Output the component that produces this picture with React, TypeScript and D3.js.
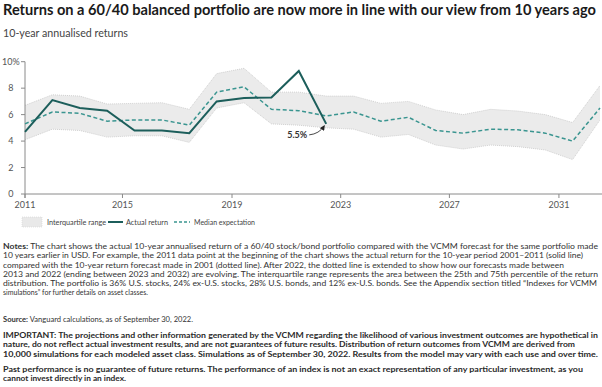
import React from "react";
import * as d3 from "d3";

const W = 602;
const H = 387;

const actualYears = [2011, 2012, 2013, 2014, 2015, 2016, 2017, 2018, 2019, 2020, 2021, 2022];
const actualValues = [4.7, 7.1, 6.5, 6.3, 4.8, 4.8, 4.6, 7.0, 7.25, 7.3, 9.3, 5.3];

const forecastYears = [2011, 2012, 2013, 2014, 2015, 2016, 2017, 2018, 2019, 2020, 2021, 2022, 2023, 2024, 2025, 2026, 2027, 2028, 2029, 2030, 2031, 2032];
const medianValues = [5.3, 6.2, 6.1, 5.5, 5.6, 5.6, 5.2, 7.7, 8.1, 6.4, 6.3, 5.9, 6.2, 5.5, 5.8, 4.8, 4.6, 4.9, 4.85, 4.6, 4.0, 6.5];
const upperValues = [6.7, 7.5, 7.4, 6.8, 6.85, 6.9, 6.4, 9.1, 9.5, 7.7, 7.7, 7.4, 7.4, 6.85, 7.0, 6.35, 6.0, 6.4, 6.27, 6.0, 5.4, 8.2];
const lowerValues = [4.1, 4.9, 4.8, 4.3, 4.4, 4.4, 3.9, 6.5, 6.9, 5.3, 5.2, 5.0, 4.9, 4.3, 4.5, 3.7, 3.4, 3.7, 3.58, 3.33, 2.6, 5.6];

const yTicks = [0, 2, 4, 6, 8, 10];
const xTickValues = [2011, 2014.56, 2018.56, 2022.53, 2026.5, 2030.5];
const xTickLabels = ["2011", "2015", "2019", "2023", "2027", "2031"];

const title = "Returns on a 60/40 balanced portfolio are now more in line with our view from 10 years ago";
const subtitle = "10-year annualised returns";
const annotation = "5.5%";
const legendLabels = ["Interquartile range", "Actual return", "Median expectation"];

const notesLines: [string, string, number][] = [
  ["Notes:", " The chart shows the actual 10-year annualised return of a 60/40 stock/bond portfolio compared with the VCMM forecast for the same portfolio made", 595],
  ["", "10 years earlier in USD. For example, the 2011 data point at the beginning of the chart shows the actual return for the 10-year period 2001–2011 (solid line)", 580],
  ["", "compared with the 10-year return forecast made in 2001 (dotted line). After 2022, the dotted line is extended to show how our forecasts made between", 561],
  ["", "2013 and 2022 (ending between 2023 and 2032) are evolving. The interquartile range represents the area between the 25th and 75th percentile of the return", 595],
  ["", "distribution. The portfolio is 36% U.S. stocks, 24% ex-U.S. stocks, 28% U.S. bonds, and 12% ex-U.S. bonds. See the Appendix section titled \u201cIndexes for VCMM", 594],
  ["", "simulations\u201d for further details on asset classes.", 145],
];
const sourceLine: [string, string, number] = ["Source:", " Vanguard calculations, as of September 30, 2022.", 190];
const importantLines: [string, number][] = [
  ["IMPORTANT: The projections and other information generated by the VCMM regarding the likelihood of various investment outcomes are hypothetical in", 595],
  ["nature, do not reflect actual investment results, and are not guarantees of future results. Distribution of return outcomes from VCMM are derived from", 572],
  ["10,000 simulations for each modeled asset class. Simulations as of September 30, 2022. Results from the model may vary with each use and over time.", 595],
];
const pastLines: [string, number][] = [
  ["Past performance is no guarantee of future returns. The performance of an index is not an exact representation of any particular investment, as you", 580],
  ["cannot invest directly in an index.", 123],
];

const FONT = "Lato, 'Open Sans', sans-serif";
const SOLID = "#1c5e5b";
const DASH = "#3a9590";

export default function App() {
  const x = d3.scaleLinear().domain([2011, 2032]).range([25, 600]);
  const y = d3.scaleLinear().domain([0, 10]).range([194, 61.7]);

  const area = d3
    .area<number>()
    .x((_, i) => x(forecastYears[i]))
    .y0((_, i) => y(lowerValues[i]))
    .y1((_, i) => y(upperValues[i]));
  const bandLine = (vals: number[]) =>
    d3.line<number>().x((_, i) => x(forecastYears[i])).y((d) => y(d))(vals) || "";
  const actualLine =
    d3.line<number>().x((_, i) => x(actualYears[i])).y((d) => y(d))(actualValues) || "";
  const medianLine = bandLine(medianValues);

  const endX = x(actualYears[actualYears.length - 1]);
  const endY = y(actualValues[actualValues.length - 1]);

  const noteY0 = 249;
  const noteStep = 9.25;

  return (
    <svg
      width={W}
      height={H}
      style={{ position: "absolute", left: 0, top: 0, background: "#fff" }}
      fontFamily={FONT}
    >
      <defs>
        <marker id="arr" viewBox="0 0 10 10" refX="8" refY="5" markerWidth="6" markerHeight="6" orient="auto">
          <path d="M0,0 L10,5 L0,10 z" fill="#222" />
        </marker>
      </defs>
      <text x={3} y={15} fontSize={14.5} fontWeight={700} fill="#1a1a1a" textLength={593} lengthAdjust="spacingAndGlyphs">
        {title}
      </text>
      <text x={3} y={37} fontSize={11} fill="#444" textLength={125} lengthAdjust="spacingAndGlyphs">
        {subtitle}
      </text>

      {/* band */}
      <path d={area(upperValues) || ""} fill="#ebebeb" />
      <path d={bandLine(upperValues)} fill="none" stroke="#c8c8c8" strokeWidth={0.8} strokeDasharray="1,1" />
      <path d={bandLine(lowerValues)} fill="none" stroke="#c8c8c8" strokeWidth={0.8} strokeDasharray="1,1" />

      {/* axes */}
      <line x1={x(2011)} x2={W} y1={y(0)} y2={y(0)} stroke="#8a8a8a" strokeWidth={1} />
      <line x1={x(2011)} x2={x(2011)} y1={y(10)} y2={y(0) + 4} stroke="#8a8a8a" strokeWidth={1} />
      {yTicks.map((t) => (
        <g key={t}>
          <line x1={x(2011) - 4} x2={x(2011)} y1={y(t)} y2={y(t)} stroke="#8a8a8a" strokeWidth={1} />
          <text x={t === 10 ? 12.5 : 13.5} y={y(t) + 3.3} fontSize={9} fill="#555" textAnchor="end">
            {t}
          </text>
          {t === 10 && (
            <text x={12.5} y={y(t) + 3.3} fontSize={9} fill="#555">
              %
            </text>
          )}
        </g>
      ))}
      {xTickValues.map((t, i) => (
        <g key={t}>
          <line x1={x(t)} x2={x(t)} y1={y(0)} y2={y(0) + 4} stroke="#8a8a8a" strokeWidth={1} />
          <text x={x(t)} y={208} fontSize={9} fill="#555" textAnchor="middle">
            {xTickLabels[i]}
          </text>
        </g>
      ))}

      {/* lines */}
      <path d={medianLine} fill="none" stroke={DASH} strokeWidth={1.5} strokeDasharray="4,2.5" />
      <path d={actualLine} fill="none" stroke={SOLID} strokeWidth={2} strokeLinejoin="miter" />

      {/* annotation */}
      <text x={endX - 19} y={endY + 14} fontSize={9} fontWeight={700} fill="#333" textAnchor="end">
        {annotation}
      </text>
      <path
        d={`M${endX - 17},${endY + 11} Q${endX - 7},${endY + 10} ${endX - 2},${endY + 2}`}
        fill="none"
        stroke="#333"
        strokeWidth={0.9}
        markerEnd="url(#arr)"
      />

      {/* legend */}
      <rect x={22} y={217} width={20} height={10} fill="#e9e9e9" stroke="#d4d4d4" strokeWidth={0.6} strokeDasharray="1,1" />
      <text x={47} y={225} fontSize={8.3} fill="#444" textLength={59} lengthAdjust="spacingAndGlyphs">{legendLabels[0]}</text>
      <line x1={108} x2={123} y1={222} y2={222} stroke={SOLID} strokeWidth={2} />
      <text x={126} y={225} fontSize={8.3} fill="#444" textLength={42} lengthAdjust="spacingAndGlyphs">{legendLabels[1]}</text>
      <line x1={174} x2={190} y1={222} y2={222} stroke={DASH} strokeWidth={1.5} strokeDasharray="3,2" />
      <text x={194} y={225} fontSize={8.3} fill="#444" textLength={61} lengthAdjust="spacingAndGlyphs">{legendLabels[2]}</text>

      {/* notes */}
      {notesLines.map(([b, r, len], i) => (
        <text key={i} x={3} y={noteY0 + i * noteStep} fontSize={8.3} fill="#333" textLength={len} lengthAdjust="spacingAndGlyphs">
          {b && <tspan fontWeight={700}>{b}</tspan>}
          <tspan>{r}</tspan>
        </text>
      ))}
      <text x={3} y={322} fontSize={8.3} fill="#333" textLength={sourceLine[2]} lengthAdjust="spacingAndGlyphs">
        <tspan fontWeight={700}>{sourceLine[0]}</tspan>
        <tspan>{sourceLine[1]}</tspan>
      </text>
      {importantLines.map(([t, len], i) => (
        <text key={i} x={3} y={338 + i * 9.25} fontSize={8.3} fontWeight={700} fill="#2a2a2a" textLength={len} lengthAdjust="spacingAndGlyphs">
          {t}
        </text>
      ))}
      {pastLines.map(([t, len], i) => (
        <text key={i} x={3} y={371.5 + i * 9.5} fontSize={8.3} fontWeight={700} fill="#2a2a2a" textLength={len} lengthAdjust="spacingAndGlyphs">
          {t}
        </text>
      ))}
    </svg>
  );
}
